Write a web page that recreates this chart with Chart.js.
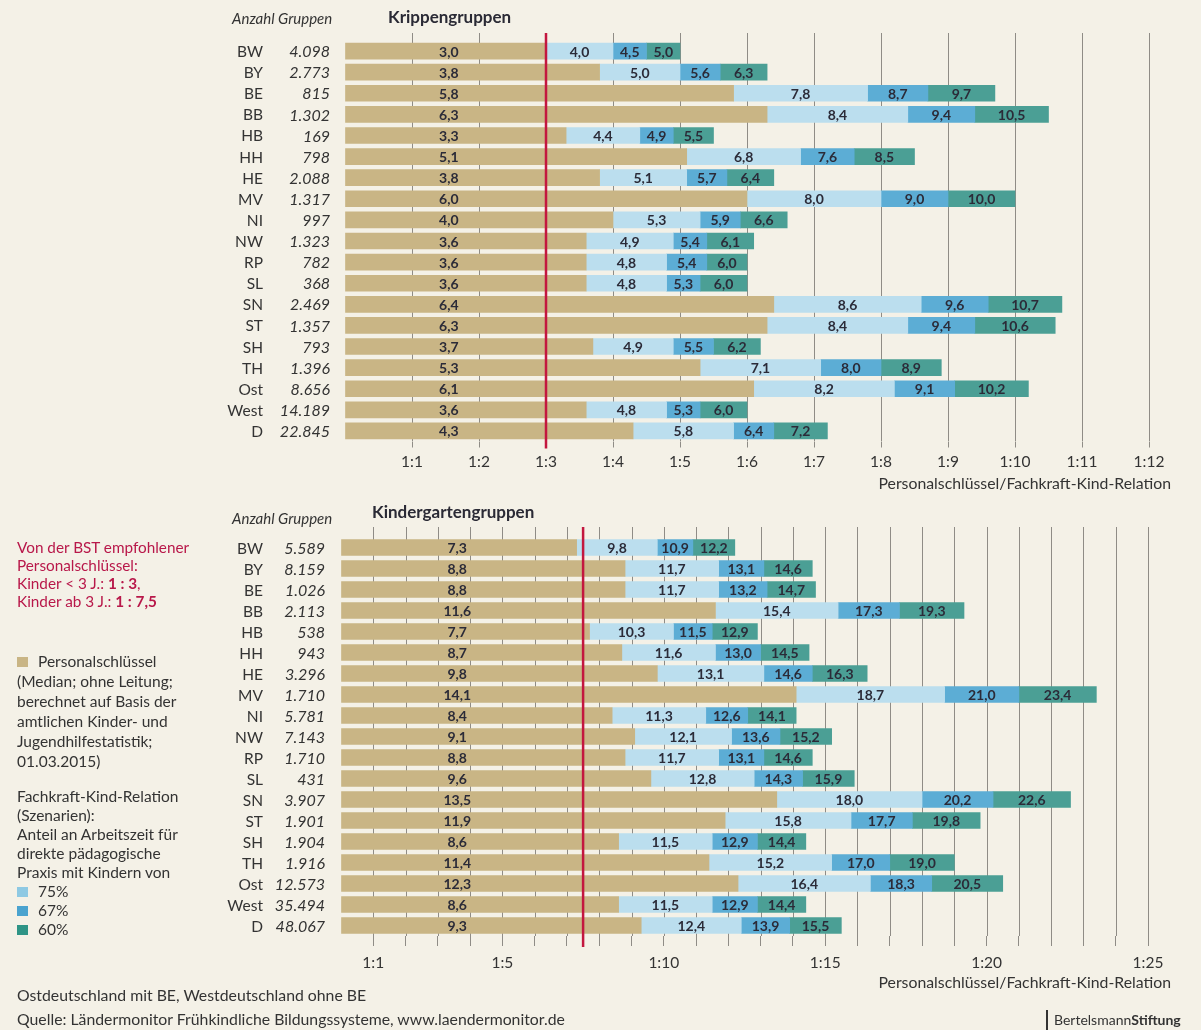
<!DOCTYPE html>
<html lang="de">
<head>
<meta charset="utf-8">
<title>Personalschlüssel Krippen- und Kindergartengruppen</title>
<script src="https://cdn.jsdelivr.net/npm/chart.js@4.4.1/dist/chart.umd.min.js"></script>
<style>
  body { margin:0; background:#f4f1e7; width:1201px; height:1030px; overflow:hidden; position:relative;
         font-family: Lato, "Open Sans", sans-serif; color:#333; }
  canvas { position:absolute; left:0; }
  .t { position:absolute; white-space:nowrap; }
  .head { font-size:15px; font-style:italic; line-height:20px; }
  .title { font-size:17px; font-weight:bold; line-height:20px; color:#2a2a35; }
  .axis { font-size:15.8px; line-height:20px; color:#333; }
  .red { left:17px; top:538px; font-size:15.3px; line-height:18px; color:#b8184a; }
  .legend { left:17px; font-size:15.5px; color:#333; }
  .sq { display:inline-block; width:11px; height:10px; margin-right:10px; vertical-align:0px; }
  .foot { left:17px; font-size:15.8px; line-height:20px; }
  .logo { left:1046px; top:1010px; border-left:2px solid #333; padding-left:6px; font-size:14px; line-height:20px; color:#333; }
</style>
</head>
<body>
<canvas id="krippe" width="1201" height="500" style="top:0"></canvas>
<canvas id="kiga" width="1201" height="530" style="top:500px"></canvas>

<div class="t head" style="left:232px; top:8px">Anzahl Gruppen</div>
<div class="t title" style="left:388px; top:7px">Krippengruppen</div>
<div class="t axis" style="right:30px; top:473px">Personalschlüssel/Fachkraft-Kind-Relation</div>

<div class="t head" style="left:232px; top:508px">Anzahl Gruppen</div>
<div class="t title" style="left:372px; top:502px">Kindergartengruppen</div>
<div class="t axis" style="right:30px; top:972px">Personalschlüssel/Fachkraft-Kind-Relation</div>

<div class="t red">Von der BST empfohlener<br>Personalschlüssel:<br>Kinder &lt; 3 J.: <b>1 : 3</b>,<br>Kinder ab 3 J.: <b>1 : 7,5</b></div>

<div class="t legend" style="top:651px; line-height:20px">
  <span class="sq" style="background:#c9b585"></span>Personalschlüssel<br>(Median; ohne Leitung;<br>berechnet auf Basis der<br>amtlichen Kinder- und<br>Jugendhilfestatistik;<br>01.03.2015)
</div>
<div class="t legend" style="top:787px; line-height:19px">
  Fachkraft-Kind-Relation<br>(Szenarien):<br>Anteil an Arbeitszeit für<br>direkte pädagogische<br>Praxis mit Kindern von<br>
  <span class="sq" style="background:#8ec9e3"></span>75%<br>
  <span class="sq" style="background:#4aa3cf"></span>67%<br>
  <span class="sq" style="background:#2e9486"></span>60%
</div>

<div class="t foot" style="top:985px">Ostdeutschland mit BE, Westdeutschland ohne BE</div>
<div class="t foot" style="top:1009px">Quelle: Ländermonitor Frühkindliche Bildungssysteme, www.laendermonitor.de</div>
<div class="t logo">Bertelsmann<b>Stiftung</b></div>

<script>
// Krippengruppen (unter 3 J.)
const krippeLaender = ['BW','BY','BE','BB','HB','HH','HE','MV','NI','NW','RP','SL','SN','ST','SH','TH','Ost','West','D'];
const krippeGruppen = [4098, 2773, 815, 1302, 169, 798, 2088, 1317, 997, 1323, 782, 368, 2469, 1357, 793, 1396, 8656, 14189, 22845];
const krippeSchluessel = [3.0, 3.8, 5.8, 6.3, 3.3, 5.1, 3.8, 6.0, 4.0, 3.6, 3.6, 3.6, 6.4, 6.3, 3.7, 5.3, 6.1, 3.6, 4.3];
const krippe75 = [4.0, 5.0, 7.8, 8.4, 4.4, 6.8, 5.1, 8.0, 5.3, 4.9, 4.8, 4.8, 8.6, 8.4, 4.9, 7.1, 8.2, 4.8, 5.8];
const krippe67 = [4.5, 5.6, 8.7, 9.4, 4.9, 7.6, 5.7, 9.0, 5.9, 5.4, 5.4, 5.3, 9.6, 9.4, 5.5, 8.0, 9.1, 5.3, 6.4];
const krippe60 = [5.0, 6.3, 9.7, 10.5, 5.5, 8.5, 6.4, 10.0, 6.6, 6.1, 6.0, 6.0, 10.7, 10.6, 6.2, 8.9, 10.2, 6.0, 7.2];
const krippeTicks = [1,2,3,4,5,6,7,8,9,10,11,12];
const krippeEmpfehlung = 3;

// Kindergartengruppen (ab 3 J.)
const kigaLaender = ['BW','BY','BE','BB','HB','HH','HE','MV','NI','NW','RP','SL','SN','ST','SH','TH','Ost','West','D'];
const kigaGruppen = [5589, 8159, 1026, 2113, 538, 943, 3296, 1710, 5781, 7143, 1710, 431, 3907, 1901, 1904, 1916, 12573, 35494, 48067];
const kigaSchluessel = [7.3, 8.8, 8.8, 11.6, 7.7, 8.7, 9.8, 14.1, 8.4, 9.1, 8.8, 9.6, 13.5, 11.9, 8.6, 11.4, 12.3, 8.6, 9.3];
const kiga75 = [9.8, 11.7, 11.7, 15.4, 10.3, 11.6, 13.1, 18.7, 11.3, 12.1, 11.7, 12.8, 18.0, 15.8, 11.5, 15.2, 16.4, 11.5, 12.4];
const kiga67 = [10.9, 13.1, 13.2, 17.3, 11.5, 13.0, 14.6, 21.0, 12.6, 13.6, 13.1, 14.3, 20.2, 17.7, 12.9, 17.0, 18.3, 12.9, 13.9];
const kiga60 = [12.2, 14.6, 14.7, 19.3, 12.9, 14.5, 16.3, 23.4, 14.1, 15.2, 14.6, 15.9, 22.6, 19.8, 14.4, 19.0, 20.5, 14.4, 15.5];
const kigaTicks = [1,5,10,15,20,25];
const kigaEmpfehlung = 7.5;

const TAN = '#c9b585', LIGHT = '#bbdeee', MID = '#5cadd5', TEAL = '#4b9f95', RED = '#c3173f', GRID = '#8f8c86';

const fmtDec = v => v.toFixed(1).replace('.', ',');
const fmtInt = n => String(n).replace(/\B(?=(\d{3})+(?!\d))/g, '.');

// state code + number of groups left of the bars
const rowLabels = {
    id: 'rowLabels',
    afterDraw(chart, args, o) {
        const { ctx } = chart;
        const y = chart.scales.y;
        ctx.save();
        ctx.fillStyle = '#333';
        ctx.textAlign = 'right';
        ctx.textBaseline = 'middle';
        chart.data.labels.forEach((lab, i) => {
            const py = y.getPixelForValue(i) + 1;
            ctx.font = '15.5px Lato';
            ctx.fillText(lab, o.codeRight, py);
            ctx.font = 'italic 16px Lato';
            ctx.fillText(fmtInt(o.counts[i]), o.countRight, py);
        });
        ctx.restore();
    }
};

// vertical grid behind bars, red recommendation line on top
const gridRef = {
    id: 'gridRef',
    beforeDatasetsDraw(chart, args, o) {
        const { ctx, chartArea } = chart;
        const x = chart.scales.x;
        ctx.save();
        ctx.strokeStyle = GRID;
        ctx.lineWidth = 1;
        x.ticks.forEach(t => {
            if (t.value === 0) return;
            const px = Math.round(x.getPixelForValue(t.value)) + 0.5;
            ctx.beginPath();
            ctx.moveTo(px, chartArea.top - o.over);
            ctx.lineTo(px, chartArea.bottom);
            ctx.stroke();
        });
        ctx.restore();
    },
    afterDatasetsDraw(chart, args, o) {
        const { ctx, chartArea } = chart;
        const px = chart.scales.x.getPixelForValue(o.ref);
        ctx.save();
        ctx.strokeStyle = RED;
        ctx.lineWidth = 2.5;
        ctx.beginPath();
        ctx.moveTo(px, chartArea.top - o.over);
        ctx.lineTo(px, chartArea.bottom + o.under);
        ctx.stroke();
        ctx.restore();
    }
};

// value labels inside the segments
const valueLabels = {
    id: 'valueLabels',
    afterDatasetsDraw(chart, args, o) {
        const { ctx } = chart;
        const x = chart.scales.x;
        ctx.save();
        ctx.font = 'bold 14px Lato';
        ctx.fillStyle = '#2b2b38';
        ctx.textAlign = 'center';
        ctx.textBaseline = 'middle';
        chart.data.datasets.forEach((ds, di) => {
            chart.getDatasetMeta(di).data.forEach((el, i) => {
                const v = Array.isArray(ds.data[i]) ? ds.data[i][1] : ds.data[i];
                const px = di === 0 ? x.getPixelForValue(o.baseAt) : (el.x + el.base) / 2;
                ctx.fillText(fmtDec(v), px, el.y + 1);
            });
        });
        ctx.restore();
    }
};

function makeChart(id, d) {
    return new Chart(document.getElementById(id), {
        type: 'bar',
        data: {
            labels: d.laender,
            datasets: [
                { label: 'Personalschlüssel', data: d.schluessel, backgroundColor: TAN },
                { label: '75%', data: d.schluessel.map((v, i) => [v, d.p75[i]]), backgroundColor: LIGHT },
                { label: '67%', data: d.p75.map((v, i) => [v, d.p67[i]]), backgroundColor: MID },
                { label: '60%', data: d.p67.map((v, i) => [v, d.p60[i]]), backgroundColor: TEAL }
            ]
        },
        options: {
            indexAxis: 'y',
            responsive: false,
            animation: false,
            devicePixelRatio: 1,
            layout: { padding: { left: d.left, right: d.right, top: d.top, bottom: 0 } },
            datasets: { bar: { grouped: false, barThickness: 16, borderWidth: 0, borderSkipped: false } },
            plugins: {
                legend: { display: false },
                tooltip: { enabled: false },
                rowLabels: { codeRight: 263, countRight: d.countRight, counts: d.gruppen },
                gridRef: { ref: d.ref, over: d.over, under: d.tickLen + 1 },
                valueLabels: { baseAt: d.baseAt }
            },
            scales: {
                x: {
                    type: 'linear', min: 0, max: d.max,
                    afterFit: s => { s.height = d.axisH; },
                    border: { display: false },
                    grid: { drawOnChartArea: false, drawTicks: true, tickLength: d.tickLen,
                            color: c => (c.tick && c.tick.value === 0) ? 'rgba(0,0,0,0)' : GRID },
                    ticks: {
                        stepSize: 1, padding: d.pad, color: '#333',
                        maxRotation: 0, minRotation: 0, autoSkip: false,
                        font: { family: 'Lato', size: 15.5 },
                        callback: v => d.ticks.includes(v) ? '1:' + v : ''
                    }
                },
                y: { display: false, offset: true }
            }
        },
        plugins: [rowLabels, gridRef, valueLabels]
    });
}

makeChart('krippe', {
    laender: krippeLaender, gruppen: krippeGruppen, schluessel: krippeSchluessel,
    p75: krippe75, p67: krippe67, p60: krippe60, ticks: krippeTicks, ref: krippeEmpfehlung,
    max: 12, left: 345, right: 52, top: 40.5, axisH: 58.5, tickLen: 6, pad: 5, over: 7.5,
    countRight: 330, baseAt: 1.55
});

makeChart('kiga', {
    laender: kigaLaender, gruppen: kigaGruppen, schluessel: kigaSchluessel,
    p75: kiga75, p67: kiga67, p60: kiga60, ticks: kigaTicks, ref: kigaEmpfehlung,
    max: 25, left: 341, right: 53, top: 37, axisH: 94, tickLen: 10, pad: 8, over: 10,
    countRight: 325, baseAt: 3.6
});
</script>
</body>
</html>
